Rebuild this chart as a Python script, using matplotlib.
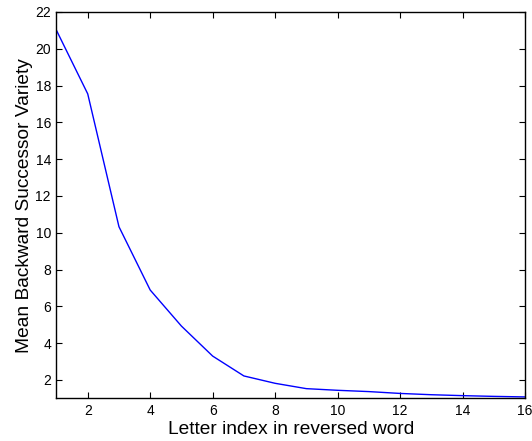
import matplotlib
matplotlib.use("Agg")
import matplotlib.pyplot as plt

x_index = list(range(1, 17))
mean_bsv = [21.0, 17.55, 10.33, 6.89, 4.93, 3.30, 2.22, 1.82, 1.53, 1.44,
            1.37, 1.27, 1.20, 1.15, 1.11, 1.08]
xticks = [2, 4, 6, 8, 10, 12, 14, 16]
yticks = [2, 4, 6, 8, 10, 12, 14, 16, 18, 20, 22]

plt.rcParams['font.family'] = ['Liberation Sans', 'DejaVu Sans']

fig = plt.figure(figsize=(5.32, 4.41), dpi=100)
ax = fig.add_axes([0.1062, 0.0966, 0.8806, 0.8762])
ax.plot(x_index, mean_bsv, color='#0000ff', linewidth=1.0)
ax.set_xlim(1, 16)
ax.set_ylim(1, 22)
ax.set_xticks(xticks)
ax.set_yticks(yticks)
ax.tick_params(direction='in', top=True, right=True, labelsize=10, length=4, width=0.8, pad=4)
for s in ax.spines.values():
    s.set_linewidth(1.0)
ax.set_xlabel('Letter index in reversed word', fontsize=13.8, labelpad=2.5)
ax.set_ylabel('Mean Backward Successor Variety', fontsize=13.8, labelpad=1.5)
fig.savefig('out.png', dpi=100)
